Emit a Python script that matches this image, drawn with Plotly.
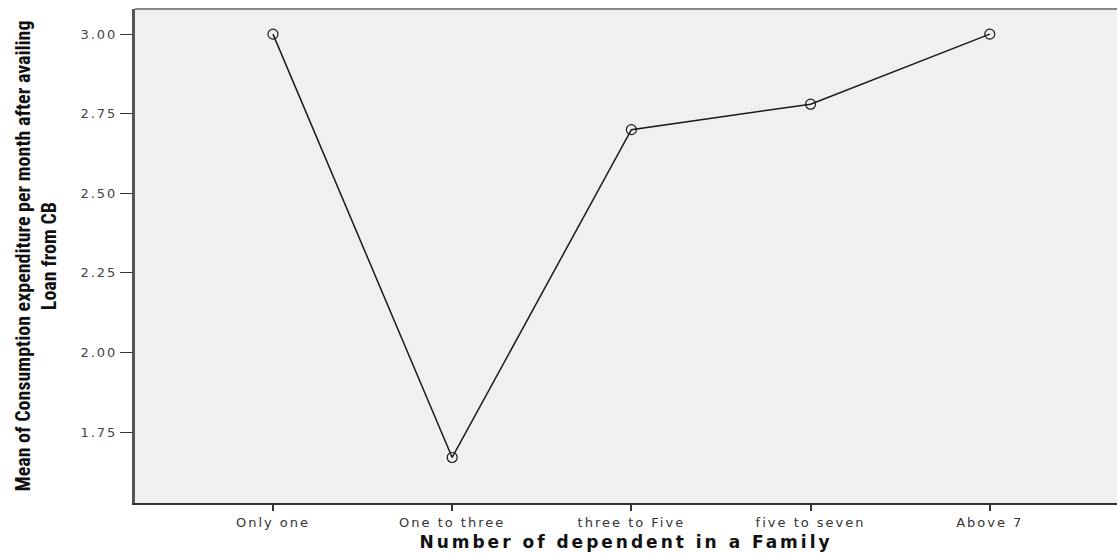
import plotly.graph_objects as go

categories = ["Only one", "One to three", "three to Five", "five to seven", "Above 7"]
means = [3.00, 1.67, 2.70, 2.78, 3.00]
y_ticks = [1.75, 2.00, 2.25, 2.50, 2.75, 3.00]
y_tick_labels = ["1.75", "2.00", "2.25", "2.50", "2.75", "3.00"]
x_title = "Number of dependent in a Family"
y_title = "Mean of Consumption expenditure per month after availing<br>Loan from CB"


def spaced(s, px):
    return '<span style="letter-spacing:%spx">%s</span>' % (px, s)


fig = go.Figure()
fig.add_trace(go.Scatter(
    x=list(range(len(categories))), y=means, mode="lines+markers",
    line=dict(color="#1a1a1a", width=1.5),
    marker=dict(symbol="circle-open", size=10, color="#1a1a1a", line=dict(width=1.2)),
    showlegend=False,
))

fig.update_layout(
    width=1117, height=554,
    margin=dict(l=135, r=0, t=9, b=51),
    paper_bgcolor="white", plot_bgcolor="#F0F0F0",
    font=dict(family="DejaVu Sans", color="#333333", size=13),
    shapes=[dict(type="line", xref="paper", yref="paper", x0=0, x1=1, y0=1, y1=1,
                 line=dict(color="#888888", width=2))],
    annotations=[dict(
        text=y_title, textangle=-90, xref="paper", yref="paper",
        x=-0.1013, y=0.5, xanchor="center", yanchor="middle", showarrow=False,
        font=dict(family="Roboto Condensed", size=20, color="#111111", weight="bold"),
    )],
)
fig.update_xaxes(
    range=[-0.77, 4.71], tickmode="array", tickvals=list(range(len(categories))),
    ticktext=[spaced(c, 2) for c in categories], ticks="outside", ticklen=6, tickwidth=2,
    tickcolor="#333333",
    showline=True, linecolor="#333333", linewidth=2, showgrid=False, zeroline=False,
    tickfont=dict(family="DejaVu Sans", size=13, color="#333333"),
    title=dict(text=spaced(x_title, 3),
               font=dict(family="DejaVu Sans", size=17, color="#111111", weight="bold"),
               standoff=8),
)
fig.update_yaxes(
    range=[1.527, 3.079], tickmode="array", tickvals=y_ticks,
    ticktext=[spaced(t, 2) for t in y_tick_labels],
    ticks="outside", ticklen=12, tickwidth=1, tickcolor="#333333",
    showline=True, linecolor="#555555", linewidth=3, showgrid=False, zeroline=False,
    tickfont=dict(family="DejaVu Sans", size=13, color="#444444"),
)

fig.write_html(
    "out.html",
    config={"displayModeBar": False},
    post_script="document.body.style.margin='0';document.body.style.overflow='hidden';",
)
